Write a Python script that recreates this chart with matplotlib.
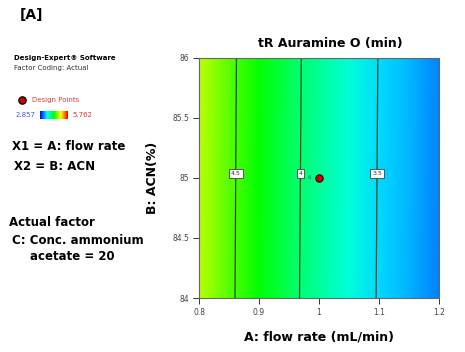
import numpy as np
import matplotlib
matplotlib.use("Agg")
import matplotlib.pyplot as plt
from matplotlib.colors import LinearSegmentedColormap

# ---- data ----
flow_rate = [0.8, 0.85, 0.9, 0.95, 1.0, 1.05, 1.1, 1.15, 1.2]
acn = [84, 86]
tr_acn84 = [4.84, 4.55, 4.30, 4.07, 3.87, 3.69, 3.48, 3.37, 3.23]
tr_acn86 = [4.852, 4.562, 4.312, 4.082, 3.882, 3.702, 3.492, 3.382, 3.242]
contour_levels = [3.5, 4.0, 4.5]
design_point_x = [1.0]
design_point_y = [85.0]
design_point_count = ["6"]
color_min, color_max = 2.857, 5.762
x_ticks = [0.8, 0.9, 1.0, 1.1, 1.2]
x_tick_labels = ["0.8", "0.9", "1", "1.1", "1.2"]
y_ticks = [84, 84.5, 85, 85.5, 86]
y_tick_labels = ["84", "84.5", "85", "85.5", "86"]

plt.rcParams['font.family'] = ['DejaVu Sans']

W, H = 465, 352
fig = plt.figure(figsize=(W / 100, H / 100), dpi=100)

def fx(px):
    return px / W

def fy(py):
    return 1 - py / H

cmap = LinearSegmentedColormap.from_list(
    "de", ["#0000ff", "#00ffff", "#00ff00", "#ffff00", "#ff0000"])

ax = fig.add_axes([fx(199), fy(298), fx(439) - fx(199), fy(57.5) - fy(298)])
X, Y = np.meshgrid(flow_rate, acn)
Z = np.array([tr_acn84, tr_acn86])
ax.pcolormesh(X, Y, Z, cmap=cmap, vmin=color_min, vmax=color_max,
              shading='gouraud')
cs = ax.contour(X, Y, Z, levels=contour_levels, colors='#1d4a26',
                linewidths=0.9)

# label positions: point on each contour nearest to the label height
manual = []
label_y = 85.035
for segs in cs.allsegs:
    seg = segs[0]
    i = np.argmin(np.abs(seg[:, 1] - label_y))
    manual.append((seg[i, 0], label_y))
labels = ax.clabel(cs, fmt=lambda v: f"{v:g}", manual=manual, inline=False,
                   fontsize=4.5, colors='#333333')
for t in labels:
    t.set_rotation(0)
    t.set_bbox(dict(boxstyle='square,pad=0.3', fc='white', ec='#444444',
                    lw=0.6))

ax.scatter(design_point_x, design_point_y, s=28, c='#cc0000',
           edgecolors='#330000', linewidths=0.8, zorder=5)
for xv, yv, n in zip(design_point_x, design_point_y, design_point_count):
    ax.annotate(n, (xv, yv), xytext=(-6, 0), textcoords='offset points',
                fontsize=4, color='#555555', va='center', ha='right')

ax.set_xlim(0.8, 1.2)
ax.set_ylim(84, 86)
ax.set_xticks(x_ticks)
ax.set_xticklabels(x_tick_labels)
ax.set_yticks(y_ticks)
ax.set_yticklabels(y_tick_labels)
ax.tick_params(labelsize=5.5, labelcolor='#444444', length=4, width=0.7,
               color='#333333', pad=3)
for s in ax.spines.values():
    s.set_color('#666666')
    s.set_linewidth(0.8)

ax.set_xlabel("A: flow rate (mL/min)", fontsize=9, fontweight='bold',
              labelpad=10)
ax.set_ylabel("B: ACN(%)", fontsize=9, fontweight='bold', labelpad=10)
fig.text(fx(330), fy(43), "tR Auramine O (min)", fontsize=9,
         fontweight='bold', ha='center', va='center')

# left panel texts
fig.text(fx(20), fy(15), "[A]", fontsize=10, fontweight='bold',
         va='center', ha='left')
fig.text(fx(14), fy(58), "Design-Expert\u00ae Software", fontsize=5,
         fontweight='bold', va='center', ha='left')
fig.text(fx(14), fy(68), "Factor Coding: Actual", fontsize=5,
         va='center', ha='left', color='#333333')
fig.text(fx(32), fy(100), "Design Points", fontsize=5, color='#d04040',
         va='center', ha='left')
dot_ax = fig.add_axes([fx(17), fy(105), fx(10), fy(95) - fy(105)])
dot_ax.scatter([0], [0], s=28, c='#cc0000', edgecolors='black',
               linewidths=0.9)
dot_ax.set_xlim(-1, 1)
dot_ax.set_ylim(-1, 1)
dot_ax.axis('off')
fig.text(fx(16), fy(115), f"{color_min:.3f}", fontsize=5, color='#4455ee',
         va='center', ha='left')
fig.text(fx(72), fy(115), f"{color_max:.3f}", fontsize=5, color='#dd3333',
         va='center', ha='left')
cb_ax = fig.add_axes([fx(40), fy(119), fx(27), fy(111) - fy(119)])
cb_ax.imshow(np.linspace(0, 1, 100)[None, :], cmap=cmap, aspect='auto')
cb_ax.axis('off')

fig.text(fx(12), fy(146), "X1 = A: flow rate", fontsize=8.5,
         fontweight='bold', va='center', ha='left')
fig.text(fx(14), fy(167), "X2 = B: ACN", fontsize=8.5,
         fontweight='bold', va='center', ha='left')
fig.text(fx(9), fy(222), "Actual factor", fontsize=8.5,
         fontweight='bold', va='center', ha='left')
fig.text(fx(12), fy(240), "C: Conc. ammonium", fontsize=8.5,
         fontweight='bold', va='center', ha='left')
fig.text(fx(30), fy(256), "acetate = 20", fontsize=8.5,
         fontweight='bold', va='center', ha='left')

fig.savefig("out.png", dpi=100)
